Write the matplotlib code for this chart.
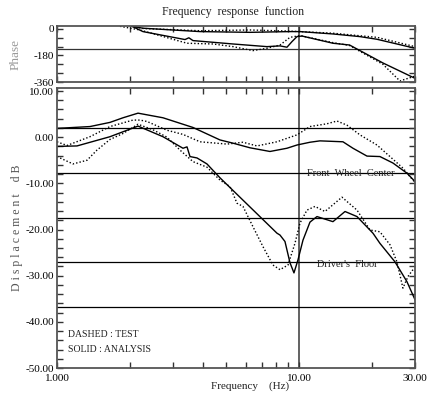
import numpy as np
import matplotlib
matplotlib.use("Agg")
import matplotlib.pyplot as plt
from matplotlib.ticker import FixedLocator, NullFormatter, FormatStrFormatter

plt.rcParams['font.family'] = ['Liberation Serif', 'DejaVu Serif']
plt.rcParams['axes.unicode_minus'] = False

# ---- data (frequency in Hz) ----
# displacement, upper pair
fwc_ana_f = [1.0, 1.368, 1.654, 1.872, 2.159, 2.737, 3.640, 4.704, 5.322, 6.255,
             7.563, 8.889, 9.775, 11.06, 12.16, 15.13, 16.64, 19.01, 21.50,
             24.33, 27.79, 30.0]
fwc_ana_db = [1.9, 2.3, 3.2, 4.2, 5.2, 4.2, 2.1, -0.6, -1.3, -2.3,
              -3.1, -2.4, -1.7, -1.1, -0.8, -1.0, -2.4, -4.1, -4.2,
              -5.6, -7.8, -9.6]
fwc_test_f = [1.0, 1.100, 1.368, 1.654, 2.058, 2.200, 2.351, 2.843, 3.310, 3.890,
              5.027, 5.852, 6.686, 8.084, 9.775, 11.06, 13.00, 14.29, 15.72,
              17.78, 20.90, 23.65, 26.75, 29.42, 30.0]
fwc_test_db = [-1.0, -1.8, 0.1, 2.3, 3.7, 3.7, 3.4, 1.5, 0.6, -1.0,
               -1.5, -1.1, -1.9, -1.0, 0.5, 2.3, 2.9, 3.5, 2.6,
               0.5, -1.7, -4.2, -6.7, -9.3, -9.8]
# displacement, lower pair
df_ana_f = [1.0, 1.209, 1.654, 2.159, 2.737, 3.310, 3.439, 3.538, 3.781, 4.157,
            4.704, 8.084, 8.318, 8.722, 9.147, 9.500, 9.867, 10.35, 11.06,
            11.82, 13.76, 15.43, 17.29, 20.12, 21.50, 24.80, 27.79, 30.0]
df_ana_db = [-2.0, -1.9, 0.1, 2.4, 0.1, -2.4, -2.1, -4.2, -4.5, -5.8,
             -8.8, -20.8, -21.2, -22.6, -27.2, -29.4, -26.6, -22.3, -18.4,
             -17.2, -18.3, -16.1, -17.2, -20.8, -23.0, -27.0, -31.3, -35.2]
df_test_f = [1.0, 1.164, 1.330, 1.462, 1.654, 1.872, 2.159, 2.489, 2.843, 3.217,
             3.640, 4.157, 4.704, 5.172, 5.528, 5.852, 6.436, 7.075, 7.782,
             8.318, 8.974, 9.590, 10.06, 10.75, 11.60, 12.75, 14.99, 17.29,
             19.56, 21.50, 23.65, 25.27, 26.75, 28.05, 29.42, 30.0]
df_test_db = [-4.2, -5.8, -5.0, -2.8, -0.5, 0.8, 2.8, 1.6, 0.0, -2.8,
              -5.3, -6.5, -9.3, -10.7, -14.3, -15.0, -19.4, -23.7, -27.7,
              -28.7, -27.7, -23.0, -18.6, -15.8, -15.0, -16.1, -13.0, -15.8,
              -20.1, -20.5, -23.3, -27.0, -32.7, -30.2, -28.7, -29.0]

# phase (deg)
ph1_ana_f = [2.039, 2.263, 3.890, 6.255, 9.147, 10.06, 13.76, 17.78, 20.90, 30.0]
ph1_ana_deg = [18, 5, -18, -23, -18, -18, -34, -52, -70, -131]
ph1_test_f = [2.039, 2.263, 3.890, 6.255, 8.889, 10.06, 13.76, 20.90, 30.0]
ph1_test_deg = [18, 3, -12, -7, -14, -18, -29, -57, -120]
ph2_ana_f = [2.039, 2.263, 3.374, 3.500, 3.640, 5.322, 7.349, 8.318, 8.889,
             9.322, 9.775, 10.25, 13.76, 16.11, 22.13, 30.0]
ph2_ana_deg = [18, -18, -72, -60, -79, -102, -120, -115, -124,
               -86, -52, -48, -97, -109, -231, -335]
ph2_test_f = [1.819, 2.200, 3.439, 4.402, 5.322, 6.436, 7.349, 8.318, 9.147,
              10.06, 13.76, 16.11, 22.13, 26.00, 30.0]
ph2_test_deg = [18, -7, -97, -102, -120, -147, -131, -109, -57,
                -45, -93, -112, -240, -353, -320]

db_ref_lines = [1.9, -7.8, -17.5, -27.0, -36.8]
phase_ref_line = -135
x_major = [1, 10, 30]
x_major_labels = ['1.000', '10.00', '30.00']
x_minor = [2, 3, 4, 5, 6, 7, 8, 9, 20]

W, H = 436, 395
fig = plt.figure(figsize=(W / 100, H / 100), dpi=100)


def box(l, t, r, b):
    return [l / W, 1 - b / H, (r - l) / W, (b - t) / H]


axp = fig.add_axes(box(57, 26, 415, 82))
axm = fig.add_axes(box(57, 88, 415, 368))

frame = '#555555'
for ax in (axp, axm):
    ax.set_xscale('log')
    ax.set_xlim(1, 30)
    ax.xaxis.set_major_locator(FixedLocator(x_major))
    ax.xaxis.set_minor_locator(FixedLocator(x_minor))
    ax.xaxis.set_minor_formatter(NullFormatter())
    ax.tick_params(which='both', direction='in', top=True, right=True,
                   color='#333333', width=1.0, labelsize=8, pad=2)
    ax.tick_params(which='both', length=4)
    for s in ax.spines.values():
        s.set_color(frame)
        s.set_linewidth(1.3)
    ax.axvline(10, color='#555555', lw=1.3, zorder=1)

# phase panel
axp.set_ylim(-360, 20)
axp.set_yticks([0, -180, -360])
axp.set_yticklabels(['0', '-180', '-360'])
axp.yaxis.set_minor_locator(FixedLocator([-60, -120, -240, -300]))
axp.tick_params(axis='x', labelbottom=False)
axp.axhline(phase_ref_line, color='#333333', lw=0.9, zorder=1)
axp.plot(ph1_ana_f, ph1_ana_deg, color='black', lw=1.0)
axp.plot(ph1_test_f, ph1_test_deg, color='black', lw=1.0, ls=(0, (1, 1.5)))
axp.plot(ph2_ana_f, ph2_ana_deg, color='black', lw=1.0)
axp.plot(ph2_test_f, ph2_test_deg, color='black', lw=1.0, ls=(0, (1, 1.5)))

# displacement panel
axm.set_ylim(-50, 10.65)
axm.set_yticks(np.arange(-50, 11, 10))
axm.yaxis.set_major_formatter(FormatStrFormatter('%.2f'))
axm.yaxis.set_minor_locator(FixedLocator([v for v in range(-50, 11, 2) if v % 10]))
axm.set_xticklabels(x_major_labels)
axm.tick_params(axis='x', pad=4)
for v in db_ref_lines:
    axm.axhline(v, color='black', lw=0.9, zorder=1)
axm.plot(fwc_ana_f, fwc_ana_db, color='black', lw=1.0)
axm.plot(fwc_test_f, fwc_test_db, color='black', lw=1.0, ls=(0, (1, 1.5)))
axm.plot(df_ana_f, df_ana_db, color='black', lw=1.0)
axm.plot(df_test_f, df_test_db, color='black', lw=1.0, ls=(0, (1, 1.5)))

axm.text(10.75, -7.8, 'Front  Wheel  Center', fontsize=7.5, va='center',
         ha='left', color='#222222')
axm.text(11.82, -27.6, "Driver's  Floor", fontsize=7.5, va='center',
         ha='left', color='#222222')
axm.text(1.11, -42.8, 'DASHED : TEST', fontsize=7, va='center', ha='left',
         color='#222222')
axm.text(1.11, -46.1, 'SOLID : ANALYSIS', fontsize=7, va='center', ha='left',
         color='#222222')

fig.text(233 / W, 1 - 12 / H, 'Frequency  response  function', fontsize=8.5,
         ha='center', va='center', color='#222222')
fig.text(250 / W, 1 - 386 / H, 'Frequency    (Hz)', fontsize=8,
         ha='center', va='center', color='#222222')
fig.text(16 / W, 1 - 54 / H, 'Phase', fontsize=9.5, rotation=90,
         ha='center', va='center', color='#999999')
fig.text(17 / W, 1 - 228 / H, 'D i s p l a c e m e n t    d B', fontsize=8.5,
         rotation=90, ha='center', va='center', color='#555555')

fig.savefig('out.png', dpi=100)
